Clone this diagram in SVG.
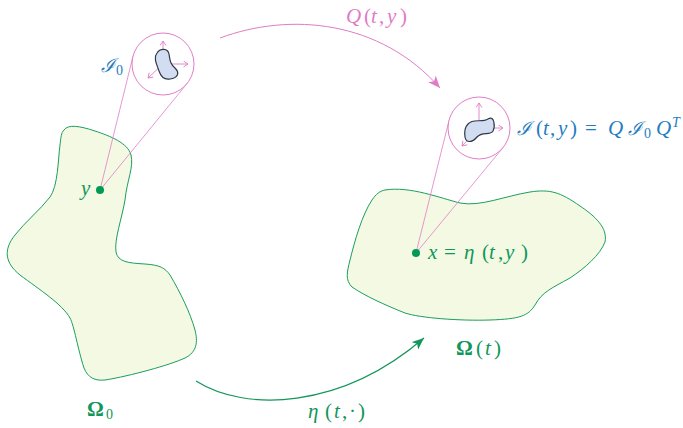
<svg xmlns="http://www.w3.org/2000/svg" width="683" height="428" viewBox="0 0 683 428">
<style>
.dom{fill:#f4f9e4;stroke:#1a9e5e;stroke-width:1}
.dot{fill:#009a55}
.lens{fill:#ffffff;stroke:#e07ec6;stroke-width:1}
.tan{stroke:#e07ec6;stroke-width:0.8;fill:none}
.ax{stroke:#e07ec6;stroke-width:0.9;fill:none;marker-end:url(#open)}
.blob{fill:#d2ddf1;stroke:#2f3a48;stroke-width:1.2}
.m{font-family:"Liberation Serif","DejaVu Serif",serif;font-size:21px}
.i{font-style:italic}
.g{fill:#12965a}
.p{fill:#df7cc5}
.b{fill:#1f7dc0}
.s{font-size:14px}
.cal{font-family:"DejaVu Serif","Liberation Serif",serif;font-style:italic;font-size:19px}
</style>
<defs>
<marker id="hp" markerUnits="userSpaceOnUse" markerWidth="14" markerHeight="12" refX="12" refY="5" orient="auto">
<path d="M0,0 L12,5 L0,10 L3,5 Z" fill="#df7cc5"/>
</marker>
<marker id="hg" markerUnits="userSpaceOnUse" markerWidth="14" markerHeight="12" refX="12" refY="5" orient="auto">
<path d="M0,0 L12,5 L0,10 L3,5 Z" fill="#12965a"/>
</marker>
<marker id="open" markerUnits="userSpaceOnUse" markerWidth="8" markerHeight="8" refX="5" refY="3.5" orient="auto">
<path d="M0.5,0.5 L5,3.5 L0.5,6.5" fill="none" stroke="#e07ec6" stroke-width="0.9"/>
</marker>
</defs>

<g id="omega0">
<path class="dom" d="M 64,130 C 68,124 80,126 95,131 C 110,136 128,143 131,155 C 134,167 127,180 125,200 C 122,218 114,240 116,252 C 118,262 128,263 145,264 C 160,265 165,268 170,275 C 180,292 190,312 195,330 C 198,342 197,352 185,358 C 170,365 130,376 105,380 C 95,381 88,378 84,368 C 78,350 74,325 70,318 C 62,304 40,290 20,275 C 5,263 3,250 15,235 C 25,222 40,210 50,197 C 58,186 58,160 60,145 C 61,137 61,133 64,130 Z"/>
</g>
<g id="omegat">
<path class="dom" d="M 385,190 C 410,186 440,198 460,203 C 480,207 505,196 530,192 C 550,189 560,192 580,206 C 595,216 608,228 605,242 C 600,255 585,268 570,278 C 552,288 542,292 535,305 C 528,316 520,319 490,320 C 460,321 420,318 405,313 C 385,305 365,296 352,287 C 345,280 347,272 350,260 C 355,240 362,215 372,200 C 376,194 380,191 385,190 Z"/>
</g>

<g id="lens0">
<line class="tan" x1="100" y1="190" x2="132.9" y2="56.6"/>
<line class="tan" x1="100" y1="190" x2="187" y2="83.6"/>
<circle class="lens" cx="163" cy="64" r="31"/>
<line class="ax" x1="163" y1="64" x2="163" y2="41"/>
<line class="ax" x1="163" y1="64" x2="188" y2="64"/>
<line class="ax" x1="163" y1="64" x2="148" y2="78"/>
<path class="blob" d="M 157,53 C 160,48 168,48 169,54 C 170,60 170,64 175,68 C 180,73 178,78 170,79 C 164,80 161,77 159,71 C 157,65 153,58 157,53 Z"/>
</g>
<g id="lenst">
<line class="tan" x1="416" y1="253" x2="449" y2="120.6"/>
<line class="tan" x1="416" y1="253" x2="503" y2="147.6"/>
<circle class="lens" cx="479" cy="128" r="31"/>
<line class="ax" x1="479" y1="128" x2="479" y2="103"/>
<line class="ax" x1="479" y1="128" x2="503" y2="128"/>
<line class="ax" x1="479" y1="128" x2="462" y2="146"/>
<path class="blob" d="M 468,124 C 473,118 482,123 488,119 C 495,115 495,127 493,131 C 490,136 482,131 477,137 C 472,143 466,143 465,137 C 464,130 465,127 468,124 Z"/>
</g>

<g id="points">
<circle class="dot" cx="100" cy="190" r="4"/>
<circle class="dot" cx="416" cy="253" r="4"/>
</g>

<g id="connectors">
<path d="M 220,38 C 290,12 380,20 440,88" fill="none" stroke="#df7cc5" stroke-width="1" marker-end="url(#hp)"/>
<path d="M 196,381 C 245,412 340,410 424,338" fill="none" stroke="#12965a" stroke-width="1.2" marker-end="url(#hg)"/>
</g>

<g id="labels">
<text class="m p" y="23"><tspan class="i" x="346">Q</tspan><tspan x="364">(</tspan><tspan class="i" x="371">t</tspan><tspan x="379">,</tspan><tspan class="i" x="387">y</tspan><tspan x="400">)</tspan></text>
<text class="m b" y="72"><tspan class="cal" x="101">ℐ</tspan><tspan class="s" x="116" dy="3">0</tspan></text>
<text class="m b" y="135"><tspan class="cal" x="517">ℐ</tspan><tspan x="536">(</tspan><tspan class="i" x="543">t</tspan><tspan x="550">,</tspan><tspan class="i" x="558">y</tspan><tspan x="570">)</tspan><tspan x="585">=</tspan><tspan class="i" x="608">Q</tspan><tspan class="cal" x="628">ℐ</tspan><tspan class="s" x="644" dy="3">0</tspan><tspan class="i" x="656" dy="-3">Q</tspan><tspan class="i s" x="672" dy="-8">T</tspan></text>
<text class="m g i" x="81" y="195">y</text>
<text class="m g" y="259"><tspan class="i" x="428">x</tspan><tspan x="444">=</tspan><tspan class="i" x="464">η</tspan><tspan x="482">(</tspan><tspan class="i" x="489">t</tspan><tspan x="498">,</tspan><tspan class="i" x="505">y</tspan><tspan x="521">)</tspan></text>
<text class="m g" y="355"><tspan font-weight="bold" x="456">Ω</tspan><tspan x="476">(</tspan><tspan class="i" x="485">t</tspan><tspan x="494">)</tspan></text>
<text class="m g" y="416"><tspan font-weight="bold" x="87">Ω</tspan><tspan class="s" x="106" dy="3">0</tspan></text>
<text class="m g" y="418"><tspan class="i" x="308">η</tspan><tspan x="325">(</tspan><tspan class="i" x="334">t</tspan><tspan x="342">,</tspan><tspan x="349">·</tspan><tspan x="358">)</tspan></text>
</g>
</svg>
